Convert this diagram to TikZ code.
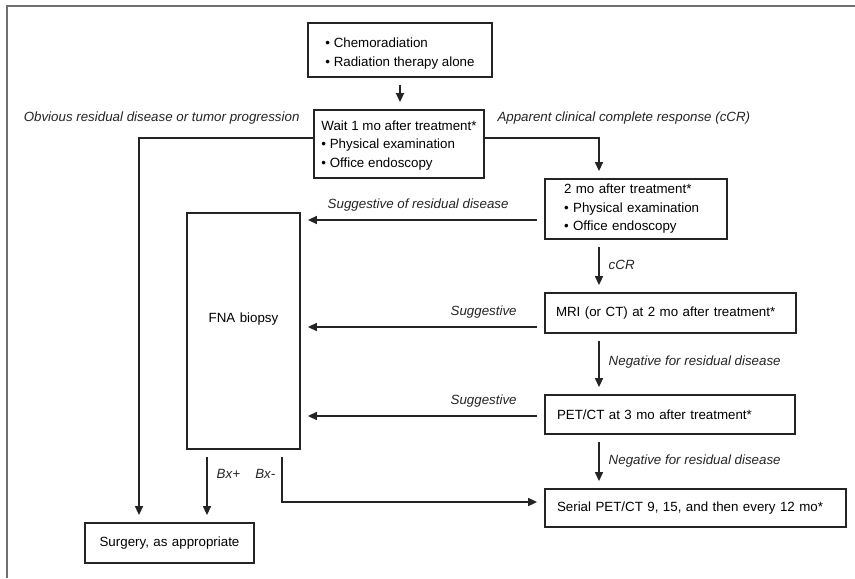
\documentclass[tikz,border=0pt]{standalone}
\usepackage{fontspec}
\setmainfont{Liberation Sans}
\usetikzlibrary{arrows.meta,calc}
\definecolor{linie}{HTML}{242424}
\definecolor{rahmen}{HTML}{707070}
\tikzset{
  box/.style={draw=linie,line width=1.35pt,inner ysep=0pt,align=left,font=\fontsize{10}{13.9}\selectfont},
  arr/.style={-{Triangle[length=6.75pt,width=6pt]},linie,line width=1.1pt,shorten >=5.25pt},
  gap/.style={shorten <=5.25pt},
  lab/.style={font=\fontsize{10}{13.9}\selectfont\itshape,inner sep=0pt},
}
\begin{document}
\begin{tikzpicture}[x=0.75pt,y=-0.75pt]
  \useasboundingbox (0,0) rectangle (855,578);
  \draw[rahmen,line width=0.8pt] (7,578)--(7,6)--(855,6);
  % boxes
  \node[box,inner xsep=2pt,minimum width=138pt,minimum height=40.5pt,text height=26.6pt] (chemo) at (400,50)
    {• Chemoradiation\\• Radiation therapy alone};
  \node[box,inner xsep=2pt,minimum width=127.5pt,minimum height=51pt,text height=36.9pt] (wait) at (399,144)
    {Wait 1 mo after treatment*\\• Physical examination\\• Office endoscopy};
  \node[box,text width=108pt,inner xsep=14.25pt,minimum height=45pt] (twomo) at (636,209)
    {2 mo after treatment*\\• Physical examination\\• Office endoscopy};
  \node[box,text width=171.75pt,inner xsep=8.25pt,minimum height=30pt] (mri) at (670.5,313)
    {MRI (or CT) at 2 mo after treatment*};
  \node[box,text width=169.5pt,inner xsep=9pt,minimum height=29.25pt] (pet) at (670,414.5)
    {PET/CT at 3 mo after treatment*};
  \node[box,text width=207.75pt,inner xsep=9pt,minimum height=28.5pt] (serial) at (695.5,508)
    {Serial PET/CT 9, 15, and then every 12 mo*};
  \node[box,align=center,text width=111.75pt,inner xsep=7.5pt,minimum height=30pt] (surg) at (169.5,543)
    {Surgery, as appropriate};
  \node[box,align=center,text width=69.75pt,inner xsep=7.5pt,minimum height=177pt,text depth=20pt] (fna) at (243.5,331)
    {FNA biopsy};
  % columns and rows of the connectors
  \coordinate (col) at (599,0);
  \coordinate (lft) at (139,0);
  \coordinate (bxp) at (207,0);
  \coordinate (bxm) at (282,0);
  \coordinate (r1) at ($(twomo.west)+(0,11)$);
  \coordinate (r2) at ($(mri.west)+(0,14)$);
  \coordinate (r3) at ($(pet.west)+(0,1.5)$);
  % connectors
  \draw[arr,gap] (chemo.south) -- (chemo.south |- wait.north);
  \draw[arr] ([yshift=4.5pt]wait.west) -| node[lab,pos=0.037,anchor=base east,yshift=12.75pt]{Obvious residual disease or tumor progression} (surg.north -| lft);
  \draw[arr] ([yshift=4.5pt]wait.east) -| node[lab,pos=0.052,anchor=base west,yshift=12.75pt]{Apparent clinical complete response (cCR)} (twomo.north -| col);
  \draw[arr,gap] (twomo.south -| col) -- node[lab,pos=0.574,anchor=base west,xshift=6.75pt]{cCR} (mri.north -| col);
  \draw[arr,gap] (mri.south -| col) -- node[lab,pos=0.53,anchor=base west,xshift=6.75pt]{Negative for residual disease} (pet.north -| col);
  \draw[arr,gap] (pet.south -| col) -- node[lab,pos=0.56,anchor=base west,xshift=6.75pt]{Negative for residual disease} (serial.north -| col);
  \draw[arr,gap] (r1) -- node[lab,pos=0.143,anchor=base east,yshift=8.6pt]{Suggestive of residual disease} (r1 -| fna.east);
  \draw[arr,gap] (r2) -- node[lab,pos=0.11,anchor=base east,yshift=8.6pt]{Suggestive} (r2 -| fna.east);
  \draw[arr,gap] (r3) -- node[lab,pos=0.11,anchor=base east,yshift=8.6pt]{Suggestive} (r3 -| fna.east);
  \draw[arr,gap] (fna.south -| bxp) -- node[lab,pos=0.39,anchor=base west,xshift=6.75pt]{Bx+} (surg.north -| bxp);
  \draw[arr,gap] (fna.south -| bxm) |- node[lab,pos=0.275,anchor=base east,xshift=-4.5pt]{Bx-} ([yshift=4.5pt]serial.west);
\end{tikzpicture}
\end{document}
